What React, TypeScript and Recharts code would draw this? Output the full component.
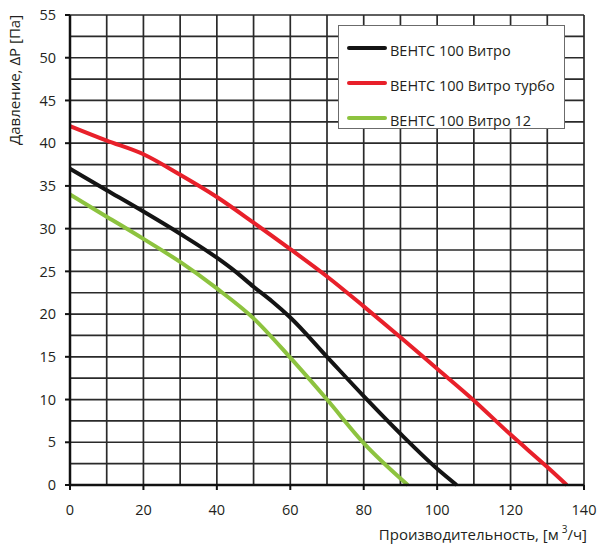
import React from 'react'
import {
  LineChart, Line, XAxis, YAxis, CartesianGrid, Legend, Label,
} from 'recharts'

// Кривые сети: производительность [м³/ч] / давление [Па]
const VITRO = [
  { x: 0, y: 37 }, { x: 10, y: 34.5 }, { x: 20, y: 32 }, { x: 30, y: 29.4 },
  { x: 40, y: 26.6 }, { x: 45, y: 25 }, { x: 50, y: 23.2 }, { x: 55, y: 21.5 },
  { x: 60, y: 19.6 }, { x: 70, y: 15 }, { x: 80, y: 10.4 }, { x: 90, y: 6 },
  { x: 100, y: 1.9 }, { x: 105.3, y: 0 },
]
const VITRO_TURBO = [
  { x: 0, y: 42 }, { x: 10, y: 40.3 }, { x: 20, y: 38.7 }, { x: 30, y: 36.3 },
  { x: 40, y: 33.7 }, { x: 50, y: 30.7 }, { x: 60, y: 27.6 }, { x: 70, y: 24.4 },
  { x: 80, y: 20.9 }, { x: 90, y: 17.3 }, { x: 100, y: 13.6 }, { x: 110, y: 9.9 },
  { x: 120, y: 5.9 }, { x: 130, y: 2.1 }, { x: 135.3, y: 0 },
]
const VITRO_12 = [
  { x: 0, y: 34 }, { x: 10, y: 31.4 }, { x: 20, y: 28.8 }, { x: 30, y: 26.1 },
  { x: 40, y: 23 }, { x: 50, y: 19.5 }, { x: 60, y: 14.9 }, { x: 70, y: 10 },
  { x: 80, y: 4.9 }, { x: 92, y: 0 },
]

const X_TICKS = [0, 20, 40, 60, 80, 100, 120, 140]
const Y_TICKS = [0, 5, 10, 15, 20, 25, 30, 35, 40, 45, 50, 55]
const X_GRID = [0, 10, 20, 30, 40, 50, 60, 70, 80, 90, 100, 110, 120, 130, 140]
const Y_GRID = [0, 2.5, 5, 7.5, 10, 12.5, 15, 17.5, 20, 22.5, 25, 27.5, 30,
  32.5, 35, 37.5, 40, 42.5, 45, 47.5, 50, 52.5, 55]

const SERIES = [
  { name: 'ВЕНТС 100 Витро', data: VITRO, color: '#141414' },
  { name: 'ВЕНТС 100 Витро турбо', data: VITRO_TURBO, color: '#e8202a' },
  { name: 'ВЕНТС 100 Витро 12', data: VITRO_12, color: '#8dc33f' },
]

const FONT = '"Open Sans", "Noto Sans", sans-serif'
const TEXT_COLOR = '#231f20'
const GRID_COLOR = '#2a2a2a'

// сетка: шаг 10 по X и 2.5 по Y (подписи только на каждой второй линии)
const vGrid = ({ offset }: any) =>
  X_GRID.map((v) => offset.left + (v / 140) * offset.width)
const hGrid = ({ offset }: any) =>
  Y_GRID.map((v) => offset.top + offset.height - (v / 55) * offset.height)

function LegendBox() {
  return (
    <div
      style={{
        width: 227, height: 104, boxSizing: 'border-box',
        border: '1px solid #6b6b6b', background: '#fff',
        padding: '7px 0 0 8px', fontFamily: FONT, fontSize: 14.5, color: TEXT_COLOR,
      }}
    >
      {SERIES.map((s) => (
        <div key={s.name} style={{ display: 'flex', alignItems: 'center', height: 35 }}>
          <span style={{ width: 40, height: 4, background: s.color, borderRadius: 2, marginRight: 3, marginTop: -5 }} />
          <span>{s.name}</span>
        </div>
      ))}
    </div>
  )
}

function YTitle() {
  return (
    <text
      x={14} y={80}
      transform="rotate(-90 14 80)"
      textAnchor="middle"
      dominantBaseline="central"
      style={{ fontFamily: FONT, fontSize: 15, fill: TEXT_COLOR }}
    >
      Давление, ΔP [Па]
    </text>
  )
}

function XTitle() {
  return (
    <text
      x={587} y={540}
      textAnchor="end"
      style={{ fontFamily: FONT, fontSize: 15, fill: TEXT_COLOR }}
    >
      Производительность, [м<tspan dx={3} dy={-7} fontSize={10}>3</tspan><tspan dy={7}>/ч]</tspan>
    </text>
  )
}

export default function App() {
  return (
    <div style={{ position: 'absolute', left: 0, top: 0, width: 600, height: 553, background: '#fff' }}>
      <LineChart
        width={600}
        height={553}
        margin={{ top: 15, right: 16, bottom: 38, left: 30 }}
      >
        <CartesianGrid
          stroke={GRID_COLOR}
          strokeWidth={1.7}
          verticalCoordinatesGenerator={vGrid}
          horizontalCoordinatesGenerator={hGrid}
        />
        <XAxis
          type="number"
          dataKey="x"
          domain={[0, 140]}
          ticks={X_TICKS}
          height={30}
          interval={0}
          axisLine={{ stroke: '#111', strokeWidth: 2.5 }}
          tickLine={{ stroke: '#111', strokeWidth: 2 }}
          tickSize={5}
          tickMargin={15}
          tick={{ fill: TEXT_COLOR, fontSize: 14.5, fontFamily: FONT }}
        >
          <Label content={XTitle} />
        </XAxis>
        <YAxis
          type="number"
          domain={[0, 55]}
          ticks={Y_TICKS}
          width={40}
          interval={0}
          axisLine={{ stroke: '#111', strokeWidth: 2.5 }}
          tickLine={{ stroke: '#111', strokeWidth: 2 }}
          tickSize={5}
          tickMargin={9}
          tick={{ fill: TEXT_COLOR, fontSize: 14.5, fontFamily: FONT }}
        >
          <Label content={YTitle} />
        </YAxis>
        {SERIES.map((s) => (
          <Line
            key={s.name}
            name={s.name}
            data={s.data}
            dataKey="y"
            type="monotone"
            stroke={s.color}
            strokeWidth={4}
            dot={false}
            activeDot={false}
            isAnimationActive={false}
          />
        ))}
        <Legend
          layout="vertical"
          align="center"
          verticalAlign="middle"
          content={<LegendBox />}
          wrapperStyle={{ left: 338, top: 25, width: 227, height: 104 }}
        />
      </LineChart>
    </div>
  )
}
